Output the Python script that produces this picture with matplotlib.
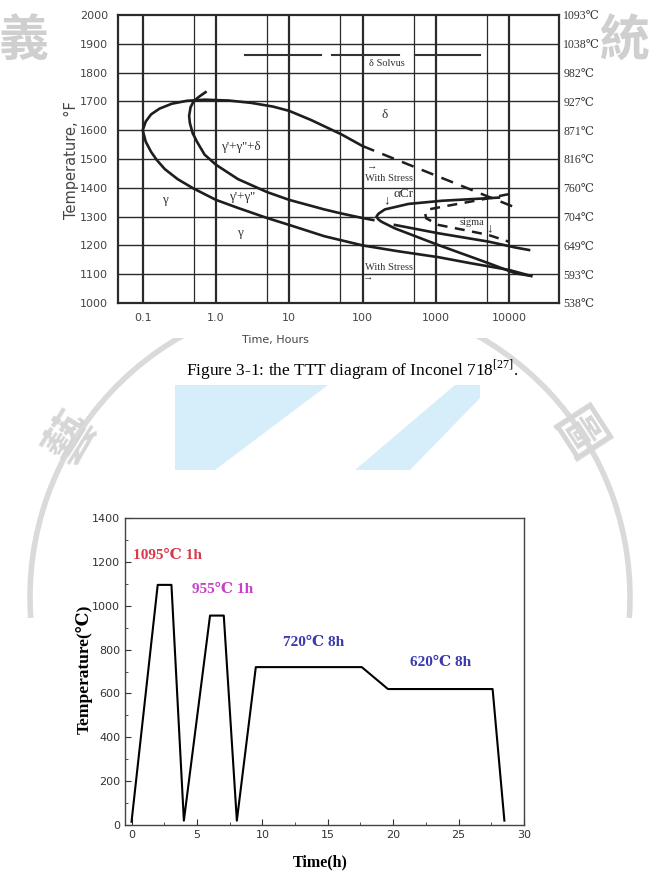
import matplotlib
matplotlib.use("Agg")
import matplotlib.pyplot as plt
from matplotlib import patches
from matplotlib.ticker import MultipleLocator, NullLocator, FixedLocator

# ---------------- data: TTT diagram (time in hours, temperature in F) ----------------
temp_F_ticks = [1000, 1100, 1200, 1300, 1400, 1500, 1600, 1700, 1800, 1900, 2000]
temp_C_labels = ['538℃', '593℃', '649℃', '704℃', '760℃', '816℃', '871℃', '927℃', '982℃', '1038℃', '1093℃']
time_ticks = [0.1, 1, 10, 100, 1000, 10000]
time_labels = ['0.1', '1.0', '10', '100', '1000', '10000']
grid_major_t = [0.1, 1, 10, 100, 1000, 10000]
grid_minor_t = [0.5, 5, 50, 500, 5000]

# outer C-curve (delta start): upper arm then lower arm
outer_t = [100, 52, 20, 10, 6, 3, 1.5, 0.7, 0.4, 0.25, 0.17, 0.13, 0.11, 0.1,
           0.11, 0.13, 0.155, 0.2, 0.3, 0.49, 1.0, 2, 5, 10, 30, 100, 300, 1090, 3000, 9900, 20000]
outer_T = [1545, 1585, 1635, 1667, 1682, 1695, 1703, 1706, 1702, 1692, 1675, 1655, 1630, 1600,
           1560, 1525, 1497, 1465, 1430, 1398, 1358, 1330, 1295, 1271, 1232, 1200, 1180, 1159, 1138, 1115, 1094]
# dashed extension of the delta curve (with stress)
delta_dash_t = [100, 12600]
delta_dash_T = [1545, 1330]
# inner C-curve (gamma' + gamma'')
inner_t = [0.72, 0.6, 0.5, 0.45, 0.43, 0.44, 0.48, 0.55, 0.7, 1.0, 2, 5, 10, 30, 51, 100, 140]
inner_T = [1732, 1718, 1702, 1680, 1650, 1625, 1590, 1560, 1515, 1480, 1430, 1385, 1358, 1325, 1311, 1295, 1288]
inner2_t = [277, 1090, 5270, 12000, 18700]
inner2_T = [1271, 1242, 1213, 1193, 1184]
# alpha-Cr C-curve
acr_t = [7250, 5270, 1212, 423, 202, 165, 155, 165, 182, 277, 1090, 5270, 12200, 20000]
acr_T = [1366, 1364, 1355, 1344, 1325, 1310, 1300, 1290, 1282, 1259, 1201, 1138, 1103, 1094]
# sigma C-curve (dashed)
sigma_t = [9900, 4000, 1212, 800, 715, 740, 1090, 2500, 5270, 9900]
sigma_T = [1378, 1358, 1334, 1325, 1311, 1294, 1271, 1253, 1236, 1213]
# delta solvus segments
solvus_segments = [(2.5, 27), (38, 310), (520, 4000)]
solvus_T = 1860

# ---------------- data: heat treatment schedule ----------------
heat_time = [0, 2.0, 3.05, 4.0, 6.0, 7.05, 8.05, 9.5, 17.6, 19.6, 27.6, 28.5]
heat_temp = [15, 1095, 1095, 20, 955, 955, 20, 720, 720, 620, 620, 20]
step_labels = ['1095℃ 1h', '955℃ 1h', '720℃ 8h', '620℃ 8h']
step_colors = ['#d83a4c', '#c840c8', '#3a3aae', '#3a3aae']
step_pos = [(0.1, 1231), (4.6, 1072), (11.6, 830), (21.3, 739)]

W, H = 661, 891
fig = plt.figure(figsize=(W / 100, H / 100), dpi=100)
fig.patch.set_facecolor('white')

SERIF = ['Liberation Serif', 'DejaVu Serif', 'Noto Sans CJK SC']
CJK = ['Noto Sans CJK TC', 'Noto Sans CJK SC']

# ---------------- background watermark ----------------
bg = fig.add_axes([0, 0, 1, 1], zorder=-5)
bg.set_xlim(0, W)
bg.set_ylim(H, 0)
bg.axis('off')
wm = '#dadada'
bg.add_patch(patches.Arc((330, 597), 600, 600, theta1=176, theta2=364, lw=4, color=wm))
bg.add_patch(patches.Polygon([(175, 385), (328, 385), (215, 470), (175, 470)], closed=True,
                             facecolor='#d5eef9', edgecolor='none'))
bg.add_patch(patches.Polygon([(455, 385), (480, 385), (480, 398), (410, 470), (355, 470)], closed=True,
                             facecolor='#d5eef9', edgecolor='none'))
bg.add_patch(patches.Rectangle((58, 0), 544, 338, facecolor='white', edgecolor='none', zorder=3))
bg.text(24, 42, '義', family=CJK, fontsize=36, fontweight='bold', color='#cfcfcf', ha='center', va='center', zorder=4)
bg.text(624, 42, '統', family=CJK, fontsize=36, fontweight='bold', color='#cfcfcf', ha='center', va='center', zorder=4)
bg.text(72, 438, '藝', family=CJK, fontsize=36, fontweight='bold', color='#d6d6d6', ha='center', va='center', rotation=58, zorder=4)
bg.text(578, 436, '圖', family=CJK, fontsize=36, fontweight='bold', color='#d6d6d6', ha='center', va='center', rotation=-57, zorder=4)

# ---------------- top chart: TTT diagram ----------------
ax1 = fig.add_axes([118 / W, 1 - 303 / H, 441 / W, 288 / H])
ax1.set_xscale('log')
ax1.set_xlim(0.046, 48000)
ax1.set_ylim(1000, 2000)
gc = '#2a2a2a'
for T in temp_F_ticks[1:-1]:
    ax1.axhline(T, color=gc, lw=1.0, zorder=1)
for t in grid_major_t:
    ax1.axvline(t, color=gc, lw=1.6, zorder=1)
for t in grid_minor_t:
    ax1.axvline(t, color=gc, lw=0.9, zorder=1)
for s in ax1.spines.values():
    s.set_linewidth(1.6)
    s.set_color(gc)

lc = '#1e1e1e'
ax1.plot(outer_t, outer_T, color=lc, lw=1.9, zorder=3)
ax1.plot(delta_dash_t, delta_dash_T, color=lc, lw=1.8, ls=(0, (5, 3.5)), zorder=3)
ax1.plot(inner_t, inner_T, color=lc, lw=1.9, zorder=3)
ax1.plot(inner2_t, inner2_T, color=lc, lw=1.9, zorder=3)
ax1.plot(acr_t, acr_T, color=lc, lw=1.9, zorder=3)
ax1.plot(sigma_t, sigma_T, color=lc, lw=1.8, ls=(0, (4, 3)), zorder=3)
for a, b in solvus_segments:
    ax1.plot([a, b], [solvus_T, solvus_T], color='#333', lw=1.5, zorder=3)

ax1.xaxis.set_major_locator(FixedLocator(time_ticks))
ax1.xaxis.set_minor_locator(NullLocator())
ax1.set_xticklabels(time_labels)
ax1.set_yticks(temp_F_ticks)
ax1.set_yticklabels([str(v) for v in temp_F_ticks])
ax1.tick_params(axis='both', length=0, labelsize=8, labelcolor='#444')
ax1.tick_params(axis='y', pad=7)
ax1.tick_params(axis='x', pad=7)

ax1r = ax1.twinx()
ax1r.set_ylim(1000, 2000)
ax1r.set_yticks(temp_F_ticks)
ax1r.set_yticklabels(temp_C_labels, family=SERIF, fontsize=8.5, color='#333')
ax1r.tick_params(axis='y', length=0, pad=3)
for s in ax1r.spines.values():
    s.set_visible(False)

tk = dict(family=SERIF, fontsize=7.5, color='#333', ha='center', va='center', zorder=5)
gk = dict(tk, fontsize=9.5)
ax1.text(213, 1830, 'δ Solvus', **tk)
ax1.text(200, 1653, 'δ', **gk)
ax1.text(2.15, 1540, "γ'+γ''+δ", **gk)
ax1.text(2.27, 1369, "γ'+γ''", **gk)
ax1.text(0.2, 1358, 'γ', **gk)
ax1.text(2.15, 1242, 'γ', **gk)
ax1.text(133, 1472, '→', **tk)
ax1.text(231, 1434, 'With Stress', **tk)
ax1.text(215, 1358, '↓', **gk)
ax1.text(364, 1378, 'αCr', **gk)
ax1.text(3140, 1281, 'sigma', **tk)
ax1.text(5380, 1260, '↓', **gk)
ax1.text(231, 1122, 'With Stress', **tk)
ax1.text(120, 1087, '→', **tk)

fig.text(71 / W, 1 - 160 / H, 'Temperature, °F', rotation=90, fontsize=10.5, color='#444',
         ha='center', va='center')
fig.text(275 / W, 1 - 340 / H, 'Time, Hours', fontsize=8, color='#444', ha='center', va='center')

# caption
plt.rcParams['mathtext.fontset'] = 'custom'
plt.rcParams['mathtext.rm'] = 'Liberation Serif'
fig.text(352 / W, 1 - 370 / H, r'Figure 3-1: the TTT diagram of Inconel 718$^{\mathrm{[27]}}$.',
         family='Liberation Serif', fontsize=12.5, color='black', ha='center', va='center')

# ---------------- bottom chart: heat treatment ----------------
ax2 = fig.add_axes([125 / W, 1 - 825 / H, 399 / W, 307 / H])
ax2.set_xlim(-0.5, 30)
ax2.set_ylim(0, 1400)
ax2.plot(heat_time, heat_temp, color='black', lw=1.5)
ax2.xaxis.set_major_locator(MultipleLocator(5))
ax2.xaxis.set_minor_locator(MultipleLocator(2.5))
ax2.yaxis.set_major_locator(MultipleLocator(200))
ax2.yaxis.set_minor_locator(MultipleLocator(100))
ax2.tick_params(axis='both', which='both', direction='in', labelsize=8, labelcolor='#333', color='#333')
ax2.tick_params(which='major', length=4)
ax2.tick_params(which='minor', length=2.5)
for s in ax2.spines.values():
    s.set_linewidth(1.0)
    s.set_color('#444')
for lab, col, (x, y) in zip(step_labels, step_colors, step_pos):
    ax2.text(x, y, lab, family=SERIF, fontsize=11, fontweight='bold', color=col, ha='left', va='center')
fig.text(84 / W, 1 - 669 / H, 'Temperature(℃)', family=SERIF, fontsize=12.5, fontweight='bold',
         rotation=90, ha='center', va='center')
fig.text(320 / W, 1 - 862 / H, 'Time(h)', family=SERIF, fontsize=11.5, fontweight='bold',
         ha='center', va='center')

fig.savefig('out.png', dpi=100, facecolor='white')
